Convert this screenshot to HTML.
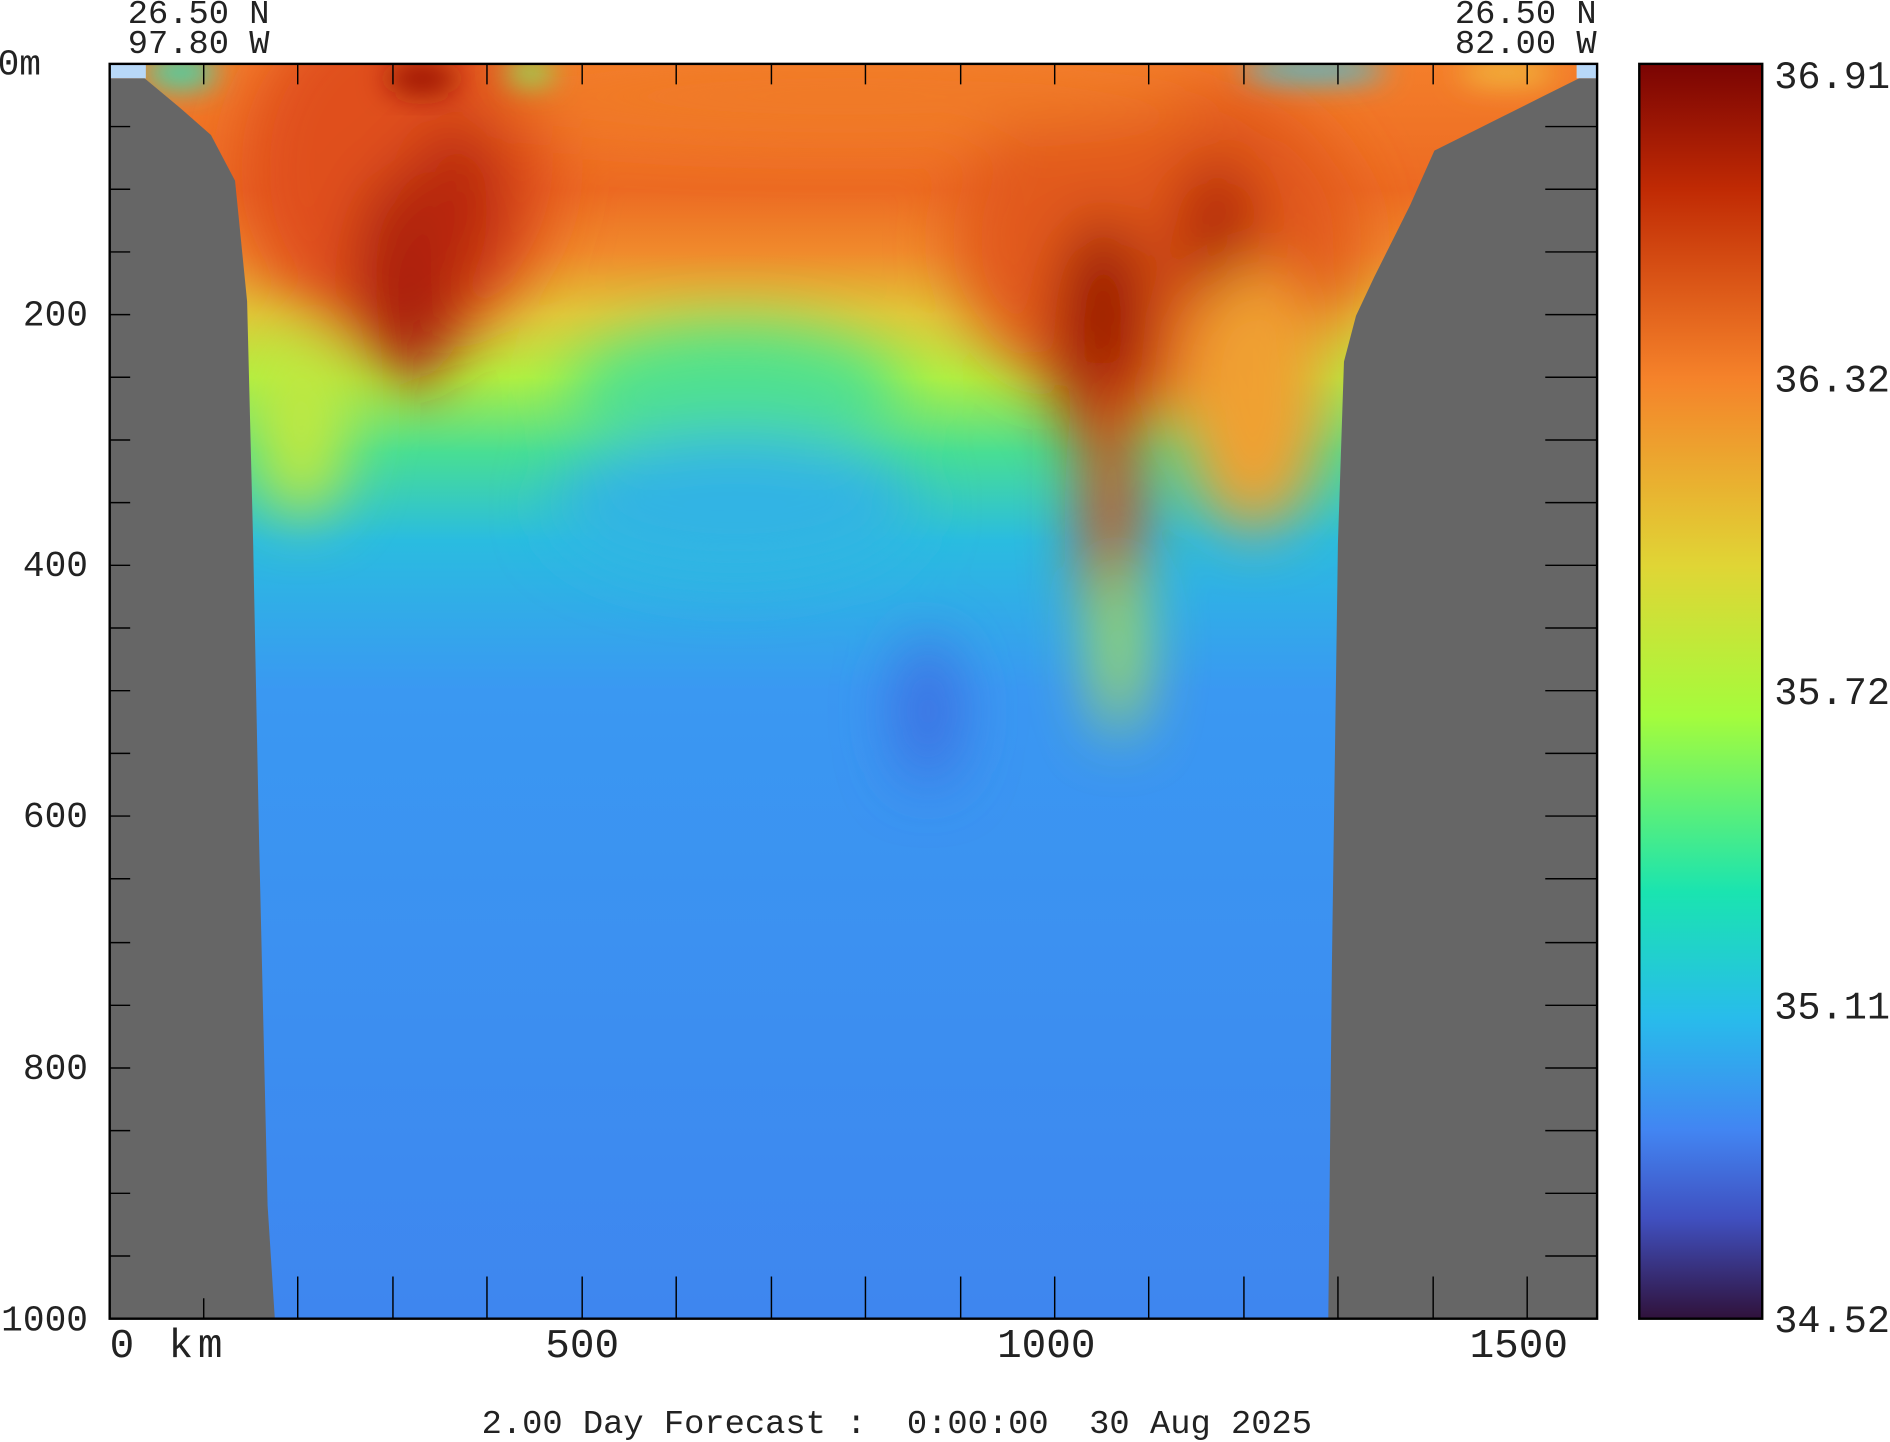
<!DOCTYPE html>
<html><head><style>html,body{margin:0;padding:0;background:#fff}svg{display:block}</style></head>
<body>
<svg width="1890" height="1442" viewBox="0 0 1568 1196.3" preserveAspectRatio="none" xmlns="http://www.w3.org/2000/svg" font-family="Liberation Mono, monospace">
<defs>
<linearGradient id="base" x1="0" y1="53" x2="0" y2="1094" gradientUnits="userSpaceOnUse">
<stop offset="0" stop-color="#f47e2a"/>
<stop offset="0.10" stop-color="#ec6a22"/>
<stop offset="0.15" stop-color="#f08a2c"/>
<stop offset="0.20" stop-color="#e0c838"/>
<stop offset="0.25" stop-color="#b0f040"/>
<stop offset="0.31" stop-color="#48de94"/>
<stop offset="0.38" stop-color="#2abce0"/>
<stop offset="0.50" stop-color="#3a98f2"/>
<stop offset="1" stop-color="#3e86ef"/>
</linearGradient>
<linearGradient id="cb" x1="0" y1="53" x2="0" y2="1094" gradientUnits="userSpaceOnUse">
<stop offset="0" stop-color="#7a0403"/>
<stop offset="0.1" stop-color="#c02a04"/>
<stop offset="0.25" stop-color="#f5822a"/>
<stop offset="0.4" stop-color="#e0d535"/>
<stop offset="0.52" stop-color="#a4fc3c"/>
<stop offset="0.66" stop-color="#1ae4b0"/>
<stop offset="0.76" stop-color="#28bceb"/>
<stop offset="0.85" stop-color="#4285f2"/>
<stop offset="0.92" stop-color="#4050c0"/>
<stop offset="1" stop-color="#30123b"/>
</linearGradient>
<filter id="b" x="-50%" y="-50%" width="200%" height="200%"><feGaussianBlur stdDeviation="25"/></filter>
<filter id="b2" x="-50%" y="-50%" width="200%" height="200%"><feGaussianBlur stdDeviation="12"/></filter>
<clipPath id="pc"><rect x="91" y="53" width="1234" height="1041"/></clipPath>
</defs>
<g clip-path="url(#pc)">
<rect x="91" y="53" width="1234" height="1041" fill="url(#base)"/>
<g filter="url(#b)">
<ellipse cx="330" cy="140" rx="130" ry="150" fill="#e0501a"/>
<ellipse cx="340" cy="230" rx="45" ry="90" fill="#a81a08"/>
<ellipse cx="380" cy="170" rx="40" ry="70" fill="#b82508"/>
<ellipse cx="960" cy="200" rx="170" ry="140" fill="#e25a1c"/>
<ellipse cx="915" cy="280" rx="40" ry="100" fill="#9a1206"/>
<ellipse cx="1010" cy="200" rx="35" ry="70" fill="#b02006"/>
<ellipse cx="922" cy="420" rx="22" ry="120" fill="#d84818"/>
<ellipse cx="928" cy="540" rx="18" ry="70" fill="#b8e840"/>
<ellipse cx="1040" cy="330" rx="60" ry="110" fill="#f0a030"/>
<ellipse cx="610" cy="330" rx="140" ry="60" fill="#50e090"/>
<ellipse cx="610" cy="420" rx="150" ry="60" fill="#30b4e4"/>
<ellipse cx="770" cy="590" rx="25" ry="60" fill="#3c6ce0"/>
<ellipse cx="250" cy="350" rx="40" ry="80" fill="#c0e840"/>
<ellipse cx="700" cy="80" rx="300" ry="30" fill="#f07a26"/>
</g>
<g filter="url(#b2)">
<ellipse cx="150" cy="60" rx="30" ry="14" fill="#40d8b0"/>
<ellipse cx="440" cy="60" rx="20" ry="10" fill="#80f060"/>
<ellipse cx="1090" cy="58" rx="60" ry="10" fill="#40c0e0"/>
<ellipse cx="1250" cy="60" rx="40" ry="10" fill="#f0c040"/>
<ellipse cx="350" cy="65" rx="30" ry="14" fill="#9a1206"/>
</g>
<rect x="91" y="53" width="30" height="12" fill="#b8d8f8"/>
<rect x="1308" y="53" width="17" height="12" fill="#b8d8f8"/>
<polygon fill="#666" points="91,65 120,65 150,90 175,112 195,150 205,250 210,450 215,700 222,1000 228,1094 91,1094"/>
<polygon fill="#666" points="1325,65 1310,65 1280,80 1240,100 1190,125 1170,170 1140,230 1125,262 1115,300 1110,450 1105,800 1102,1094 1325,1094"/>
</g>
<g stroke="#000" stroke-width="1.2">
<path d="M169,53v17M247,53v17M326,53v17M404,53v17M483,53v17M561,53v17M640,53v17M718,53v17M797,53v17M875,53v17M953,53v17M1032,53v17M1110,53v17M1189,53v17M1267,53v17"/>
<path d="M169,1094v-17M247,1094v-35M326,1094v-35M404,1094v-35M483,1094v-35M561,1094v-35M640,1094v-35M718,1094v-35M797,1094v-35M875,1094v-35M953,1094v-35M1032,1094v-35M1110,1094v-35M1189,1094v-35M1267,1094v-35"/>
<path d="M91,105h17M91,157h17M91,209h17M91,261h17M91,313h17M91,365h17M91,417h17M91,469h17M91,521h17M91,573h17M91,625h17M91,677h17M91,729h17M91,782h17M91,834h17M91,886h17M91,938h17M91,990h17M91,1042h17"/>
<path d="M1325,105h-43M1325,157h-43M1325,209h-43M1325,261h-43M1325,313h-43M1325,365h-43M1325,417h-43M1325,469h-43M1325,521h-43M1325,573h-43M1325,625h-43M1325,677h-43M1325,729h-43M1325,782h-43M1325,834h-43M1325,886h-43M1325,938h-43M1325,990h-43M1325,1042h-43"/>
</g>
<rect x="91" y="53" width="1234" height="1041" fill="none" stroke="#000" stroke-width="2"/>
<rect x="1360" y="53" width="102" height="1041" fill="url(#cb)" stroke="#000" stroke-width="2"/>
<g font-size="28" fill="#222">
<text x="106" y="19">26.50 N</text>
<text x="106" y="44">97.80 W</text>
<text x="1207" y="19">26.50 N</text>
<text x="1207" y="44">82.00 W</text>
<text x="-2" y="62" font-size="30">0m</text>
<text x="73" y="270" text-anchor="end" font-size="30">200</text>
<text x="73" y="478" text-anchor="end" font-size="30">400</text>
<text x="73" y="686" text-anchor="end" font-size="30">600</text>
<text x="73" y="895" text-anchor="end" font-size="30">800</text>
<text x="73" y="1104" text-anchor="end" font-size="30">1000</text>
<text x="91" y="1126" font-size="34" letter-spacing="4">0 km</text>
<text x="483" y="1126" font-size="34" text-anchor="middle">500</text>
<text x="868" y="1126" font-size="34" text-anchor="middle">1000</text>
<text x="1260" y="1126" font-size="34" text-anchor="middle">1500</text>
<text x="1472" y="73" font-size="32">36.91</text>
<text x="1472" y="325" font-size="32">36.32</text>
<text x="1472" y="584" font-size="32">35.72</text>
<text x="1472" y="845" font-size="32">35.11</text>
<text x="1472" y="1105" font-size="32">34.52</text>
<text x="744" y="1189" text-anchor="middle" xml:space="preserve">2.00 Day Forecast :  0:00:00  30 Aug 2025</text>
</g>
</svg>
</body></html>
